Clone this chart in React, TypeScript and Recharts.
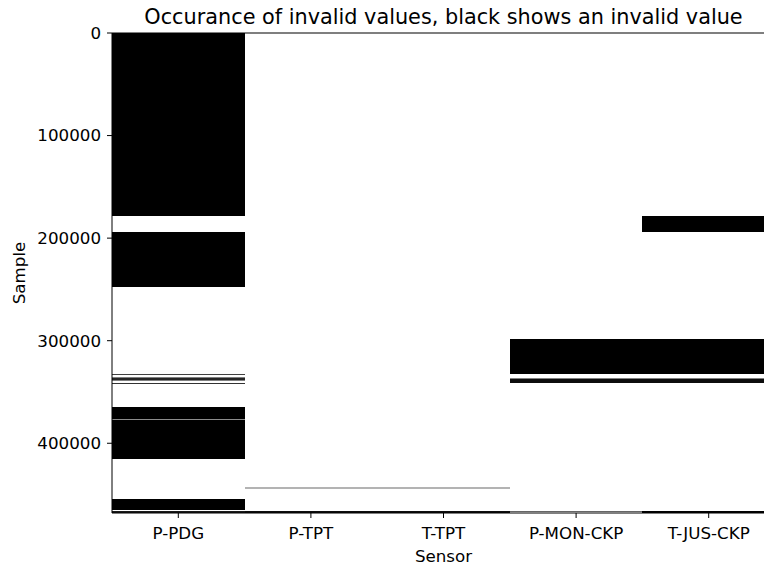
import React from "react";
import {ComposedChart, Customized, ReferenceArea, ReferenceLine, XAxis, YAxis} from "recharts";

const sensors = ["P-PDG", "P-TPT", "T-TPT", "P-MON-CKP", "T-JUS-CKP"];
const sampleTicks = [0, 100000, 200000, 300000, 400000];
const sampleCount = 468000;

// invalid runs per sensor: [first sample, last sample, share of invalid samples]
const pPdgRuns = [
  [0, 178400, 1],
  [194300, 247400, 1],
  [332100, 333300, 0.75],
  [335400, 339600, 0.5],
  [336600, 338300, 0.85],
  [340800, 342000, 0.8],
  [364400, 415400, 1],
  [376000, 377200, 0.45],
  [454600, 465500, 1],
  [466400, 468000, 0.9],
];
const pTptRuns = [
  [443000, 444200, 0.3],
  [466000, 468000, 0.95],
];
const tTptRuns = [
  [443000, 444200, 0.3],
  [466000, 468000, 0.95],
];
const pMonCkpRuns = [
  [298600, 332500, 1],
  [336700, 341500, 0.95],
  [336500, 337700, 0.5],
  [465800, 467100, 0.6],
];
const tJusCkpRuns = [
  [178400, 194300, 1],
  [298600, 332500, 1],
  [336700, 341500, 0.95],
  [336500, 337700, 0.5],
  [465700, 468000, 1],
];

const runs = [pPdgRuns, pTptRuns, tTptRuns, pMonCkpRuns, tJusCkpRuns];

const font = "'DejaVu Sans', sans-serif";
const tickStyle = {fill: "#000", fontSize: 16.7, fontFamily: font};

const shade = (share: number) => {
  const v = Math.round(255 * (1 - share));
  return `rgb(${v},${v},${v})`;
};

const Titles = () => (
  <g fontFamily={font} fill="#000">
    <text x={443.5} y={24} fontSize={20.8} textAnchor="middle">
      Occurance of invalid values, black shows an invalid value
    </text>
    <text x={443.5} y={562} fontSize={16.7} textAnchor="middle">Sensor</text>
    <text x={25} y={273} fontSize={16.7} textAnchor="middle" transform="rotate(-90 25 273)">Sample</text>
  </g>
);

export default function App() {
  const data = sensors.map((name, i) => ({x: i + 0.5, name}));
  return (
    <div style={{position: "absolute", left: 0, top: 0, width: 764, height: 571, overflow: "hidden", background: "#fff"}}>
      <ComposedChart width={790} height={571} data={data} margin={{top: 33, right: 15, bottom: 0, left: 0}}>
        <XAxis type="number" dataKey="x" domain={[0, 5]} ticks={sensors.map((_, i) => i + 0.5)}
               tickFormatter={(v: number) => sensors[Math.floor(v)]} height={58}
               tick={tickStyle} tickSize={5} tickMargin={9} stroke="#000" allowDataOverflow interval={0}/>
        <YAxis type="number" domain={[0, sampleCount]} reversed ticks={sampleTicks} width={112}
               tick={tickStyle} tickSize={5} tickMargin={6} stroke="#000" allowDataOverflow interval={0}/>
        {runs.map((list, i) =>
          list.map(([start, end, share], k) => (
            <ReferenceArea key={`run-${i}-${k}`} x1={i} x2={i + 1} y1={start} y2={end}
                           fill={shade(share)} fillOpacity={1} stroke="none" ifOverflow="hidden"
                           shapeRendering="crispEdges"/>
          ))
        )}
        <ReferenceLine y={0} stroke="#000" strokeWidth={1.1}/>
        <ReferenceLine x={5} stroke="#000" strokeWidth={1.1}/>
        <Customized component={Titles}/>
      </ComposedChart>
    </div>
  );
}
